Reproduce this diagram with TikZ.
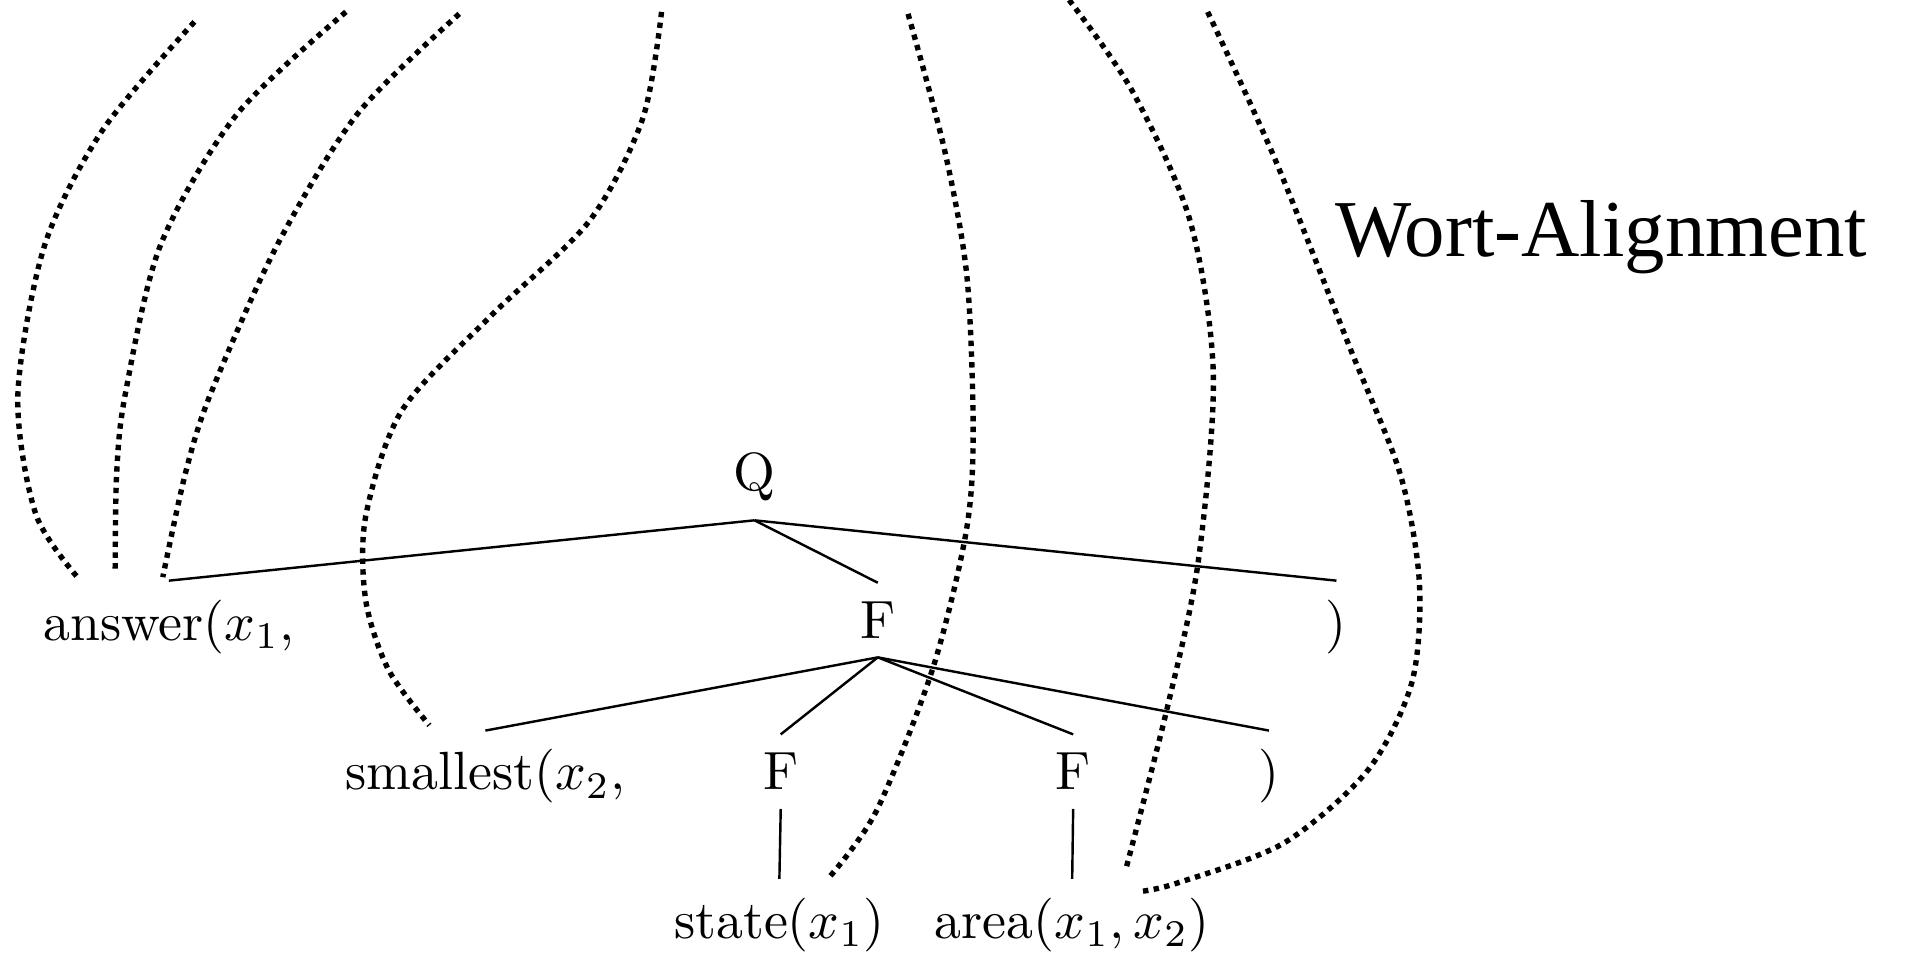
\documentclass[tikz,border=0pt]{standalone}
\usepackage{fontspec}
\newfontfamily\wortfont{Liberation Serif}

\begin{document}
\begin{tikzpicture}[
  x=0.2257pt, y=-0.2257pt,
  word/.style={anchor=base},
  treeline/.style={line width=0.45pt},
  linkdots/.style={line width=1pt, densely dotted},
]
\useasboundingbox (0,0) rectangle (1568,787);
% tree
\node[word] (q) at (621,404) {Q};
\node[word] (ans) at (139,526.8) {answer($x_1,$};
\node[word] (f) at (722.5,525.4) {F};
\node[word] (rpa) at (1100,526.8) {)};
\node[word] (sm) at (399.5,650.2) {smallest($x_2,$};
\node[word] (fl) at (642.6,650.2) {F};
\node[word] (fr) at (883.3,650.2) {F};
\node[word] (rpb) at (1044.5,650.2) {)};
\node[word] (st) at (641.5,772.3) {state($x_1$)};
\node[word] (ar) at (882.5,772.3) {area($x_1, x_2$)};
\draw[treeline] (q.south) -- (ans.north);
\draw[treeline] (q.south) -- (f.north);
\draw[treeline] (q.south) -- (rpa.north);
\draw[treeline] (f.south) -- (sm.north);
\draw[treeline] (f.south) -- (fl.north);
\draw[treeline] (f.south) -- (fr.north);
\draw[treeline] (f.south) -- (rpb.north);
\draw[treeline] (fl.south) -- (st.north);
\draw[treeline] (fr.south) -- (ar.north);
% alignment curves
\draw[linkdots] plot[smooth] coordinates {(160,18) (84.5,107) (36.7,202) (14.7,325) (29.4,423) (65.4,477)};
\draw[linkdots] plot[smooth] coordinates {(284.7,9.8) (194.7,94.4) (132,202) (103,325) (96,390) (94.8,472)};
\draw[linkdots] plot[smooth] coordinates {(378,11.4) (294,94) (228,202) (173,325) (152.5,390) (134,475)};
\draw[linkdots] plot[smooth] coordinates {(544.5,9.8) (529,97.6) (485,182) (404,260) (330.7,338) (301,425) (301,494) (319.6,551) (353.4,597)};
\draw[linkdots] plot[smooth] coordinates {(747.4,11.4) (777.5,123.7) (795.9,228) (801,358) (795,439) (767.5,551) (721.6,667) (683,721.5)};
\draw[linkdots] plot[smooth] coordinates {(880,0) (932,75) (979.6,182) (998.7,309) (986,464) (960.4,584) (927.3,713)};
\draw[linkdots] plot[smooth] coordinates {(994,9.8) (1049,130) (1111,286) (1152.6,390.5) (1168.3,480) (1162,562) (1125.8,634) (1056.5,694) (968.3,727) (936.8,734)};
\node[anchor=base west, inner sep=0pt, font=\wortfont\fontsize{15}{18}\selectfont] (wa) at (1098,211.5) {Wort-Alignment};
\end{tikzpicture}
\end{document}
